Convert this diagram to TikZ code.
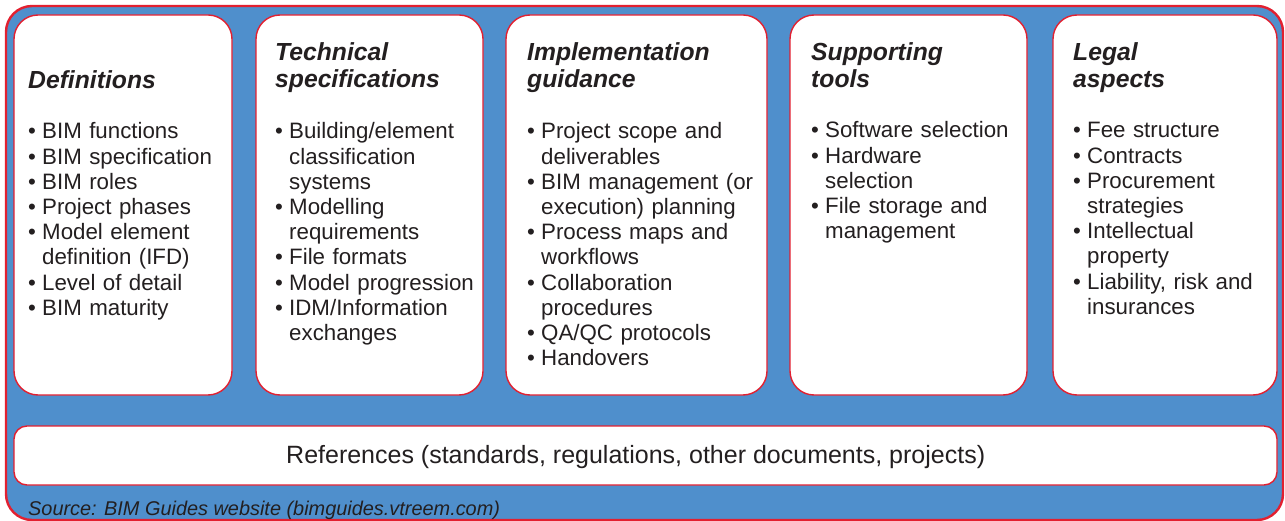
\documentclass[tikz,border=0pt]{standalone}
\usepackage{fontspec}
\setmainfont{Liberation Sans}
\definecolor{panelblue}{RGB}{79,143,204}
\definecolor{edgered}{RGB}{226,32,48}
\definecolor{ink}{RGB}{35,31,32}
% one bulleted item; continuation lines hang under the text
\newcommand{\bitem}[1]{\hangindent=14pt\hangafter=1\noindent\makebox[14pt][l]{•}#1\par}
\tikzset{
  panel/.style={draw=edgered, line width=2.4pt, fill=panelblue, rounded corners=26pt, inner sep=0pt},
  card/.style={draw=edgered, line width=1.4pt, fill=white, rounded corners=24pt, inner sep=0pt},
  refcard/.style={draw=edgered, line width=1.4pt, fill=white, rounded corners=13pt, inner sep=0pt},
  cardtitle/.style={anchor=base west, inner sep=0pt, text width=230pt, align=left, text=ink,
    font=\fontsize{24.7}{26.3}\selectfont\bfseries\itshape},
  cardlist/.style={anchor=base west, inner sep=0pt, text width=260pt, align=left, text=ink,
    font=\fontsize{22.3}{25.2}\selectfont},
}
\begin{document}
\begin{tikzpicture}[x=1pt, y=-1pt]
\useasboundingbox (0,0) rectangle (1285,521);

% frame and boxes
\node[panel, minimum width=1277pt, minimum height=514pt] (frame) at (644.5,263) {};
\node[card, minimum width=218pt, minimum height=380pt] (defs) at (123,205) {};
\node[card, minimum width=227pt, minimum height=380pt] (tech) at (369.5,205) {};
\node[card, minimum width=261pt, minimum height=380pt] (impl) at (636.5,205) {};
\node[card, minimum width=237pt, minimum height=380pt] (tools) at (908.5,205) {};
\node[card, minimum width=224pt, minimum height=380pt] (legal) at (1165,205) {};
\node[refcard, minimum width=1263pt, minimum height=59pt] (refs) at (645.5,455.5) {};

% headings
\node[cardtitle] (defs-title) at (28,89) {Definitions};
\node[cardtitle] (tech-title) at (275,61) {Technical\\specifications};
\node[cardtitle] (impl-title) at (527,61) {Implementation\\guidance};
\node[cardtitle] (tools-title) at (811,61) {Supporting\\tools};
\node[cardtitle] (legal-title) at (1073,61) {Legal\\aspects};

% bullet lists
\node[cardlist] (defs-list) at (28,139) {%
  \bitem{BIM functions}%
  \bitem{BIM specification}%
  \bitem{BIM roles}%
  \bitem{Project phases}%
  \bitem{Model element\newline definition (IFD)}%
  \bitem{Level of detail}%
  \bitem{BIM maturity}};
\node[cardlist] (tech-list) at (275,139) {%
  \bitem{Building/element\newline classification\newline systems}%
  \bitem{Modelling\newline requirements}%
  \bitem{File formats}%
  \bitem{Model progression}%
  \bitem{IDM/Information\newline exchanges}};
\node[cardlist] (impl-list) at (527,139) {%
  \bitem{Project scope and\newline deliverables}%
  \bitem{BIM management (or\newline execution) planning}%
  \bitem{Process maps and\newline workflows}%
  \bitem{Collaboration\newline procedures}%
  \bitem{QA/QC protocols}%
  \bitem{Handovers}};
\node[cardlist] (tools-list) at (811,138) {%
  \bitem{Software selection}%
  \bitem{Hardware\newline selection}%
  \bitem{File storage and\newline management}};
\node[cardlist] (legal-list) at (1073,138) {%
  \bitem{Fee structure}%
  \bitem{Contracts}%
  \bitem{Procurement\newline strategies}%
  \bitem{Intellectual\newline property}%
  \bitem{Liability, risk and\newline insurances}};

% references bar and source line
\node[anchor=base west, inner sep=0pt, text=ink, font=\fontsize{25}{28}\selectfont]
  (refs-text) at (286,463) {References (standards, regulations, other documents, projects)};
\node[anchor=base west, inner sep=0pt, text=ink, font=\fontsize{19.9}{22}\selectfont\itshape]
  (source) at (28,515) {Source: BIM Guides website (bimguides.vtreem.com)};
\end{tikzpicture}
\end{document}
